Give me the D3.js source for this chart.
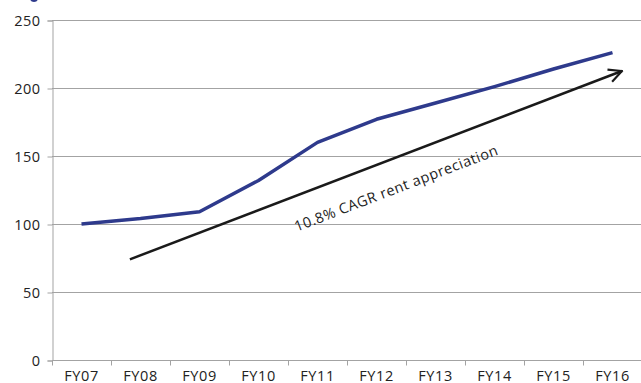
<!DOCTYPE html>
<html>
<head>
<meta charset="utf-8">
<script src="https://cdn.jsdelivr.net/npm/d3@7"></script>
<style>
  html, body { margin: 0; padding: 0; background: #fff; }
  svg { display: block; }
  text { font-family: "Open Sans", "DejaVu Sans", sans-serif; fill: #222; }
</style>
</head>
<body>
<svg id="chart" width="641" height="383"></svg>
<script>
// Rent index, FY07 = 100
const years = ["FY07", "FY08", "FY09", "FY10", "FY11", "FY12", "FY13", "FY14", "FY15", "FY16"];
const rentIndex = [100, 104, 109, 132, 160, 177, 189, 201, 214, 226];
const yTicks = [0, 50, 100, 150, 200, 250];

// Trend arrow: [category position (in bands from the left edge), value]
const trendStart = [1.32, 74];
const trendEnd = [9.66, 212.5];
const trendLabel = "10.8% CAGR rent appreciation";

const svg = d3.select("#chart");
const margin = { left: 52, right: -1, top: 20, bottom: 23 };
const width = 641, height = 383;

const x = d3.scaleBand().domain(years)
  .range([margin.left, width - margin.right]).padding(0);
const y = d3.scaleLinear().domain([0, 250])
  .range([height - margin.bottom, margin.top]);
const xPos = b => margin.left + b * x.step();

// small mark in the top-left corner
svg.append("ellipse").attr("cx", 34).attr("cy", -2).attr("rx", 4).attr("ry", 4)
  .attr("fill", "#2e3a8c");

// gridlines
svg.append("g").selectAll("line").data(yTicks.filter(d => d > 0)).join("line")
  .attr("x1", margin.left).attr("x2", width)
  .attr("y1", d => y(d) + 0.5).attr("y2", d => y(d) + 0.5)
  .attr("stroke", "#a3a3a3").attr("stroke-width", 1);

// y axis
const yAxis = svg.append("g").attr("transform", `translate(${margin.left + 0.5},0.5)`)
  .call(d3.axisLeft(y).tickValues(yTicks).tickSize(5).tickPadding(7));
yAxis.select(".domain").attr("stroke", "#a3a3a3");
yAxis.selectAll(".tick line").attr("stroke", "#a3a3a3");
yAxis.selectAll("text").attr("font-size", 14.5).attr("fill", "#222")
  .attr("letter-spacing", 0.5)
  .attr("font-family", "Open Sans, sans-serif");

// x axis baseline with ticks at band boundaries
const baseY = y(0) + 0.5;
svg.append("line").attr("x1", margin.left).attr("x2", width)
  .attr("y1", baseY).attr("y2", baseY).attr("stroke", "#a3a3a3");
svg.append("g").selectAll("line").data(years).join("line")
  .attr("x1", d => x(d) + 0.5).attr("x2", d => x(d) + 0.5)
  .attr("y1", baseY).attr("y2", baseY + 5)
  .attr("stroke", "#a3a3a3");
svg.append("g").selectAll("text").data(years).join("text")
  .attr("x", d => x(d) + x.bandwidth() / 2)
  .attr("y", baseY + 20)
  .attr("text-anchor", "middle")
  .attr("font-size", 14.5)
  .attr("letter-spacing", 0.6)
  .text(d => d);

// rent index line
const line = d3.line()
  .x((d, i) => x(years[i]) + x.bandwidth() / 2)
  .y(d => y(d));
svg.append("path").datum(rentIndex)
  .attr("d", line)
  .attr("fill", "none")
  .attr("stroke", "#2e3a8c")
  .attr("stroke-width", 3.5)
  .attr("stroke-linejoin", "round");

// trend arrow
svg.append("defs").append("marker")
  .attr("id", "arrowhead")
  .attr("viewBox", "0 0 10 10")
  .attr("refX", 9).attr("refY", 5)
  .attr("markerWidth", 6.5).attr("markerHeight", 6.5)
  .attr("markerUnits", "strokeWidth")
  .attr("orient", "auto")
  .append("path")
  .attr("d", "M1,1 L9,5 L1,9")
  .attr("fill", "none").attr("stroke", "#1a1a1a").attr("stroke-width", 1.3);

const x0 = xPos(trendStart[0]), y0 = y(trendStart[1]);
const x1 = xPos(trendEnd[0]), y1 = y(trendEnd[1]);
svg.append("line")
  .attr("x1", x0).attr("y1", y0).attr("x2", x1).attr("y2", y1)
  .attr("stroke", "#1a1a1a").attr("stroke-width", 2.5)
  .attr("marker-end", "url(#arrowhead)");

const angle = Math.atan2(y1 - y0, x1 - x0) * 180 / Math.PI;
svg.append("text")
  .attr("transform", `translate(398,193) rotate(${angle})`)
  .attr("text-anchor", "middle")
  .attr("font-size", 14.5)
  .attr("letter-spacing", 0.5)
  .text(trendLabel);
</script>
</body>
</html>
